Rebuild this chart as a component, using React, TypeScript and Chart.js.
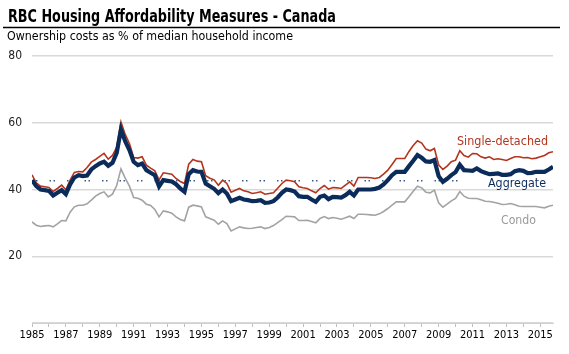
import React, { useEffect, useRef } from "react";
import { Chart, registerables } from "chart.js";

Chart.register(...registerables);

const startYear = 1985;
const endYear = 2015.75;
const quartersPerYear = 4;

// Quarterly values, 1985 Q1 .. 2015 Q4 (ownership costs, % of median household income)
const aggregate = [
  42.8, 41.0, 40.0, 39.8, 39.6, 38.2, 39.0, 39.8, 38.6, 41.5, 43.6, 44.3,
  44.0, 44.2, 46.0, 47.0, 47.8, 48.3, 47.1, 48.0, 51.0, 58.0, 54.5, 51.8,
  48.3, 47.3, 47.8, 45.8, 45.0, 44.3, 40.9, 42.8, 42.6, 42.4, 41.6, 40.3,
  39.3, 44.6, 45.8, 45.4, 45.3, 41.8, 41.0, 40.2, 38.9, 40.0, 38.8, 36.5,
  37.0, 37.5, 37.0, 36.8, 36.5, 36.6, 36.8, 36.0, 36.1, 36.5, 37.6, 39.0,
  40.0, 39.8, 39.4, 38.0, 37.8, 37.8, 37.0, 36.3, 37.8, 38.2, 37.1, 37.8,
  37.7, 37.6, 38.3, 39.3, 38.2, 40.0, 40.0, 40.0, 40.0, 40.2, 40.6, 41.5,
  42.8, 44.3, 45.3, 45.3, 45.3, 47.0, 48.6, 50.3, 49.5, 48.4, 48.3, 48.8,
  44.0, 42.3, 43.2, 44.3, 45.2, 47.4, 45.8, 45.7, 45.6, 46.3, 45.5, 45.0,
  44.6, 44.7, 44.8, 44.4, 44.4, 44.6, 45.5, 45.8, 45.6, 44.9, 45.0, 45.3,
  45.3, 45.3, 46.0, 46.8,
];

const singleDetached = [
  44.4, 42.0, 41.0, 40.8, 40.6, 39.4, 40.3, 41.3, 39.9, 42.8, 45.1, 45.4,
  45.3, 46.6, 48.2, 49.0, 49.9, 50.8, 49.1, 50.2, 52.6, 60.2, 56.5, 53.8,
  49.6, 49.4, 49.8, 47.3, 46.4, 45.6, 42.9, 45.0, 44.8, 44.6, 43.3, 42.4,
  41.8, 47.6, 49.0, 48.5, 48.3, 44.1, 43.4, 42.9, 41.3, 42.8, 41.8, 39.2,
  39.8, 40.3, 39.6, 39.3, 38.8, 39.0, 39.3, 38.6, 38.8, 39.0, 40.4, 41.8,
  42.8, 42.6, 42.3, 40.8, 40.5, 40.3, 39.6, 39.0, 40.3, 41.2, 40.1, 40.6,
  40.5, 40.3, 41.3, 42.3, 41.0, 43.6, 43.6, 43.6, 43.5, 43.3, 43.6, 44.6,
  45.8, 47.5, 49.3, 49.3, 49.3, 51.4, 53.2, 54.6, 53.9, 52.1, 51.6, 52.3,
  47.4, 46.0, 47.0, 48.3, 48.8, 51.6, 50.2, 49.7, 50.8, 50.7, 49.8, 49.4,
  49.8, 49.0, 49.2, 49.0, 48.7, 49.3, 49.8, 49.8, 49.5, 49.6, 49.2, 49.4,
  49.8, 50.2, 51.0, 51.3,
];

const condo = [
  30.3, 29.3, 28.9, 29.1, 29.2, 28.8, 29.7, 30.7, 30.6, 33.2, 34.8, 35.3,
  35.3, 35.7, 36.8, 38.0, 38.8, 39.3, 37.8, 38.6, 41.2, 46.2, 43.4, 41.0,
  37.6, 37.4, 36.8, 35.6, 35.2, 34.0, 31.8, 33.6, 33.3, 32.9, 31.8, 31.0,
  30.6, 34.7, 35.3, 35.1, 34.8, 31.8, 31.3, 30.8, 29.6, 30.6, 29.8, 27.6,
  28.2, 28.8, 28.5, 28.3, 28.4, 28.6, 28.8, 28.3, 28.6, 29.2, 30.1, 31.0,
  32.0, 31.9, 31.8, 30.7, 30.7, 30.8, 30.4, 30.0, 31.3, 31.9, 31.3, 31.6,
  31.4, 31.1, 31.5, 32.0, 31.3, 32.6, 32.6, 32.5, 32.4, 32.3, 32.7, 33.4,
  34.3, 35.3, 36.3, 36.3, 36.3, 37.8, 39.5, 41.0, 40.5, 39.2, 39.0, 39.8,
  36.0, 34.7, 35.6, 36.6, 37.3, 39.4, 38.0, 37.4, 37.3, 37.3, 36.9, 36.5,
  36.4, 36.2, 35.9, 35.5, 35.6, 35.8, 35.4, 35.0, 34.9, 34.9, 34.9, 34.9,
  34.7, 34.5, 35.0, 35.3,
];

const averageAggregate = 42.6;
const averageEndYear = 2010.5;

const yTicks = [0, 20, 40, 60, 80];

const titleText = "RBC Housing Affordability Measures - Canada";
const subtitleText = "Ownership costs as % of median household income";
const seriesNames = ["Single-detached", "Aggregate", "Condo"];

const colors = {
  single: "#B3351E",
  aggregate: "#0B2C5A",
  condo: "#A3A3A3",
  condoLabel: "#9A9A9A",
  grid: "#D9D9D9",
};

const toPoints = (arr: number[]) =>
  arr.map((v, i) => ({ x: startYear + i / quartersPerYear, y: v }));

const textPlugin = {
  id: "textPlugin",
  afterDraw(chart: any) {
    const ctx = chart.ctx;
    ctx.save();
    ctx.textBaseline = "alphabetic";
    ctx.textAlign = "left";
    ctx.fillStyle = "#000";
    ctx.font = "bold 17px 'DejaVu Sans'";
    ctx.fillText(titleText, 8, 22, 328);
    ctx.strokeStyle = "#000";
    ctx.lineWidth = 1.6;
    ctx.beginPath();
    ctx.moveTo(3, 27.5);
    ctx.lineTo(560, 27.5);
    ctx.stroke();
    ctx.font = "12px 'DejaVu Sans'";
    ctx.fillText(subtitleText, 7, 40, 286);
    ctx.font = "13px 'DejaVu Sans'";
    ctx.fillStyle = colors.single;
    ctx.fillText(seriesNames[0], 457, 145, 91);
    ctx.fillStyle = colors.aggregate;
    ctx.fillText(seriesNames[1], 488, 187, 58);
    ctx.fillStyle = colors.condoLabel;
    ctx.fillText(seriesNames[2], 501, 224, 35);
    ctx.restore();
  },
};

export default function App() {
  const ref = useRef<HTMLCanvasElement | null>(null);

  useEffect(() => {
    if (!ref.current) return;
    const chart = new Chart(ref.current, {
      type: "line",
      data: {
        datasets: [
          {
            label: seriesNames[1],
            data: toPoints(aggregate),
            borderColor: colors.aggregate,
            borderWidth: 4.2,
            pointRadius: 0,
            tension: 0,
            order: 0,
          },
          {
            label: "Average",
            data: [
              { x: startYear, y: averageAggregate },
              { x: averageEndYear, y: averageAggregate },
            ],
            borderColor: "#3A5A86",
            borderWidth: 1.5,
            borderDash: [1.5, 2.5, 1.5, 12],
            pointRadius: 0,
            order: 1,
          },
          {
            label: seriesNames[0],
            data: toPoints(singleDetached),
            borderColor: colors.single,
            borderWidth: 1.6,
            pointRadius: 0,
            tension: 0,
            order: 2,
          },
          {
            label: seriesNames[2],
            data: toPoints(condo),
            borderColor: colors.condo,
            borderWidth: 1.6,
            pointRadius: 0,
            tension: 0,
            order: 3,
          },
        ],
      },
      options: {
        responsive: false,
        animation: false,
        layout: { padding: { top: 56, right: 16, left: 0, bottom: 0 } },
        plugins: {
          legend: { display: false },
          tooltip: { enabled: false },
        },
        scales: {
          x: {
            type: "linear",
            min: startYear,
            max: endYear,
            afterFit: (s: any) => {
              s.height = 31;
            },
            grid: {
              drawOnChartArea: false,
              drawTicks: true,
              tickLength: 4,
              color: "#BFBFBF",
            },
            border: { color: "#D0D0D0", width: 1 },
            ticks: {
              stepSize: 1,
              includeBounds: false,
              autoSkip: false,
              maxRotation: 0,
              padding: 2,
              color: "#000",
              font: { family: "'DejaVu Sans Condensed', 'Liberation Sans'", size: 11 },
              callback: (v: any) =>
                Number.isInteger(v) && (v - startYear) % 2 === 0 ? String(v) : "",
            },
          },
          y: {
            min: yTicks[0],
            max: yTicks[yTicks.length - 1],
            afterFit: (s: any) => {
              s.width = 32;
            },
            grid: { color: colors.grid, lineWidth: 1.5, drawTicks: false },
            border: { display: false },
            ticks: {
              stepSize: 20,
              padding: 10,
              color: "#222",
              font: { family: "'DejaVu Sans Condensed', 'Liberation Sans'", size: 12 },
              callback: (v: any) => (v === 0 ? "" : String(v)),
            },
          },
        },
      },
      plugins: [textPlugin],
    });
    return () => chart.destroy();
  }, []);

  return (
    <div style={{ position: "fixed", left: 0, top: 0, width: 569, height: 354, background: "#fff" }}>
      <canvas ref={ref} width={569} height={354} style={{ width: 569, height: 354 }} />
    </div>
  );
}
